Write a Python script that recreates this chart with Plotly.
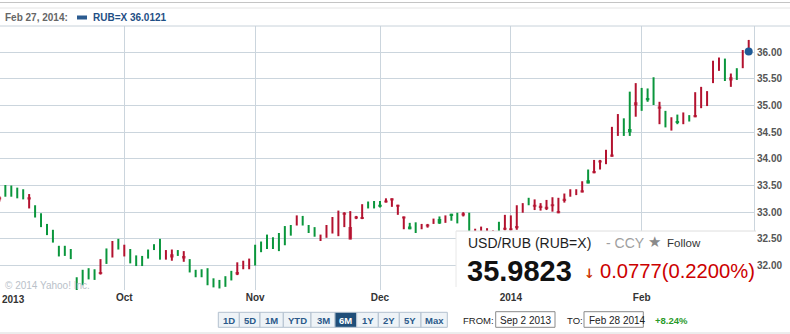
import numpy as np
import pandas as pd
import plotly.graph_objects as go

# ---------------- data ----------------
skip_days = ["2013-10-14", "2014-01-01"]
dates = [d.strftime("%Y-%m-%d") for d in pd.bdate_range("2013-09-02", "2014-02-27")
         if d.strftime("%Y-%m-%d") not in skip_days]

opens = [
    33.24, 33.40, 33.40, 33.36, 33.33, 33.24, 33.01, 32.85, 32.67, 32.55,
    32.27, 32.27, 32.21, 31.64, 31.77, 31.84, 31.83, 31.84, 32.17, 32.30,
    32.40, 32.28, 32.17, 32.09, 32.08, 32.21, 32.34, 32.30, 32.20, 32.15,
    32.23, 32.13, 32.00, 31.85, 31.85, 31.79, 31.67, 31.65, 31.70, 31.81,
    31.83, 32.01, 32.03, 32.19, 32.35, 32.44, 32.42, 32.44, 32.56, 32.66,
    32.85, 32.84, 32.68, 32.63, 32.52, 32.64, 32.75, 32.79, 32.95, 32.49,
    32.88, 32.87, 33.13, 33.14, 33.14, 33.18, 33.22, 33.10, 32.88, 32.73,
    32.71, 32.73, 32.73, 32.83, 32.87, 32.87, 32.97, 32.90, 32.94, 32.75,
    32.60, 32.62, 32.61, 32.58, 32.72, 32.67, 32.66, 32.70, 33.08, 33.20,
    33.10, 33.08, 33.06, 33.11, 32.98, 33.21, 33.36, 33.37, 33.37, 33.60,
    33.73, 33.93, 34.03, 34.04, 34.63, 34.60, 34.56, 35.00, 35.11, 35.14,
    35.27, 34.94, 34.75, 34.65, 34.71, 34.76, 34.76, 34.78, 35.15, 35.13,
    35.63, 35.78, 35.67, 35.47, 35.59, 35.87, 35.99,
]
highs = [
    33.30, 33.51, 33.50, 33.46, 33.43, 33.34, 33.13, 32.98, 32.78, 32.67,
    32.37, 32.37, 32.31, 31.78, 31.92, 31.95, 31.93, 32.12, 32.32, 32.46,
    32.50, 32.39, 32.31, 32.19, 32.18, 32.30, 32.40, 32.50, 32.29, 32.30,
    32.29, 32.27, 32.12, 31.92, 31.93, 31.95, 31.76, 31.73, 31.80, 31.90,
    32.06, 32.09, 32.13, 32.39, 32.45, 32.58, 32.53, 32.61, 32.74, 32.76,
    32.94, 32.93, 32.76, 32.72, 32.58, 32.76, 32.91, 33.03, 33.00, 33.02,
    32.93, 33.15, 33.20, 33.21, 33.21, 33.26, 33.26, 33.14, 32.92, 32.80,
    32.81, 32.78, 32.78, 32.88, 32.92, 32.94, 32.97, 32.99, 33.00, 32.99,
    32.69, 32.73, 32.70, 32.66, 32.82, 32.95, 32.94, 33.13, 33.17, 33.27,
    33.24, 33.17, 33.23, 33.28, 33.27, 33.35, 33.43, 33.43, 33.58, 33.80,
    33.98, 33.98, 34.17, 34.60, 34.84, 34.76, 35.26, 35.42, 35.33, 35.32,
    35.53, 35.07, 34.90, 34.78, 34.83, 34.87, 34.82, 35.25, 35.35, 35.27,
    35.84, 35.90, 35.88, 35.60, 35.70, 36.04, 36.23,
]
lows = [
    33.20, 33.29, 33.29, 33.26, 33.24, 33.07, 32.90, 32.72, 32.57, 32.43,
    32.17, 32.18, 32.12, 31.50, 31.63, 31.74, 31.73, 31.83, 32.03, 32.15,
    32.30, 32.17, 32.04, 31.99, 31.99, 32.13, 32.29, 32.11, 32.11, 32.09,
    32.18, 32.07, 31.87, 31.78, 31.78, 31.63, 31.59, 31.57, 31.60, 31.72,
    31.82, 31.93, 31.93, 32.00, 32.25, 32.31, 32.31, 32.27, 32.38, 32.56,
    32.75, 32.75, 32.61, 32.54, 32.46, 32.52, 32.60, 32.55, 32.72, 32.49,
    32.87, 32.87, 33.07, 33.07, 33.09, 33.18, 33.10, 32.95, 32.68, 32.68,
    32.61, 32.68, 32.71, 32.78, 32.78, 32.80, 32.84, 32.79, 32.92, 32.50,
    32.50, 32.52, 32.52, 32.50, 32.62, 32.66, 32.66, 32.67, 32.99, 33.13,
    33.04, 33.03, 33.04, 33.01, 32.98, 33.18, 33.29, 33.32, 33.37, 33.54,
    33.73, 33.80, 33.90, 34.04, 34.43, 34.43, 34.43, 34.79, 34.90, 35.07,
    35.01, 34.65, 34.59, 34.53, 34.65, 34.65, 34.70, 34.78, 34.95, 34.99,
    35.42, 35.65, 35.46, 35.35, 35.48, 35.70, 35.98,
]
closes = [
    33.28, 33.399, 33.399, 33.359, 33.329, 33.28, 33.009, 32.849, 32.669, 32.549,
    32.269, 32.269, 32.209, 31.639, 31.769, 31.839, 31.829, 31.88, 32.169, 32.301,
    32.399, 32.281, 32.169, 32.089, 32.079, 32.209, 32.339, 32.299, 32.201, 32.21,
    32.229, 32.18, 31.999, 31.849, 31.849, 31.789, 31.669, 31.649, 31.699, 31.809,
    31.88, 32.011, 32.031, 32.189, 32.349, 32.439, 32.419, 32.439, 32.559, 32.659,
    32.851, 32.839, 32.679, 32.629, 32.521, 32.641, 32.751, 32.791, 32.99, 32.72,
    32.92, 32.91, 33.129, 33.139, 33.10, 33.22, 33.26, 33.14, 32.92, 32.68,
    32.709, 32.731, 32.77, 32.831, 32.79, 32.871, 32.93, 32.899, 32.98, 32.749,
    32.601, 32.621, 32.611, 32.581, 32.719, 32.71, 32.70, 32.74, 33.081, 33.199,
    33.14, 33.12, 33.10, 33.15, 33.02, 33.25, 33.361, 33.371, 33.41, 33.54,
    33.77, 33.97, 34.031, 34.08, 34.631, 34.599, 34.50, 35.06, 35.109, 35.10,
    35.269, 34.98, 34.749, 34.651, 34.67, 34.761, 34.759, 34.82, 35.151, 35.131,
    35.631, 35.781, 35.669, 35.53, 35.589, 35.871, 36.0121,
]

month_names = {"10": "Oct", "11": "Nov", "12": "Dec", "01": "2014", "02": "Feb"}
y_ticks = [32.0, 32.5, 33.0, 33.5, 34.0, 34.5, 35.0, 35.5, 36.0]
range_buttons = ["1D", "5D", "1M", "YTD", "3M", "6M", "1Y", "2Y", "5Y", "Max"]
selected_button = "6M"
symbol = "RUB=X"
pair_title = "USD/RUB (RUB=X)"
last_price = "35.9823"
change_text = "0.0777(0.2200%)"
from_text = "Sep 2 2013"
to_text = "Feb 28 2014"
period_change = "+8.24%"

# ---------------- styling ----------------
RED = "#b3122f"
GREEN = "#0a963c"
RED_BODY = "#c9475e"
GREEN_BODY = "#17a04a"
GRID = "#cbd5dd"
FONT = "Liberation Sans"

W, H = 790, 334
ML, MR, MT, MB = 0, 36, 26, 44
PW = W - ML - MR
PH = H - MT - MB


def px(x):
    return (x - ML) / PW


def py(y):
    return (H - MB - y) / PH


o = np.array(opens)
h = np.array(highs)
l = np.array(lows)
c = np.array(closes)
mask = np.abs(c - o) >= 0.01
bx = [d for d, m in zip(dates, mask) if m]

# month tick positions (first trading day of each month after the first)
tick_dates, seen = [], set()
for d in dates:
    if d[:7] not in seen:
        seen.add(d[:7])
        tick_dates.append(d)
tick_dates = tick_dates[1:]
tick_text = [month_names[d[5:7]] for d in tick_dates]

fig = go.Figure()
fig.add_trace(go.Ohlc(
    x=dates, open=opens, high=highs, low=lows, close=closes,
    tickwidth=0,
    increasing=dict(line=dict(color=RED, width=2)),
    decreasing=dict(line=dict(color=GREEN, width=2)),
    hoverinfo="skip", showlegend=False,
))
fig.add_trace(go.Candlestick(
    x=bx, open=o[mask], close=c[mask],
    high=np.maximum(o, c)[mask], low=np.minimum(o, c)[mask],
    whiskerwidth=0,
    increasing=dict(line=dict(color=RED, width=0), fillcolor=RED_BODY),
    decreasing=dict(line=dict(color=GREEN, width=0), fillcolor=GREEN_BODY),
    hoverinfo="skip", showlegend=False,
))
fig.add_trace(go.Scatter(
    x=[dates[-1]], y=[closes[-1]], mode="markers",
    marker=dict(size=8, color="#1f5a96"), hoverinfo="skip", showlegend=False,
))

shapes = []
annotations = []


def line(x0, y0, x1, y1, color, width=1):
    shapes.append(dict(type="line", xref="paper", yref="paper",
                       x0=px(x0), x1=px(x1), y0=py(y0), y1=py(y1),
                       line=dict(color=color, width=width), layer="above"))


def rect(x0, y0, x1, y1, fill, lcolor=None, lw=0):
    shapes.append(dict(type="rect", xref="paper", yref="paper",
                       x0=px(x0), x1=px(x1), y0=py(y0), y1=py(y1),
                       fillcolor=fill, line=dict(color=lcolor or fill, width=lw),
                       layer="above"))


def text(x, y, s, size=10, color="#333", xanchor="left", family=FONT):
    annotations.append(dict(xref="paper", yref="paper", x=px(x), y=py(y),
                            text=s, showarrow=False, xanchor=xanchor, yanchor="middle",
                            font=dict(family=family, size=size, color=color)))


# header
line(0, 2.5, W, 2.5, "#c4c4c4")
line(0, 8, W, 8, "#e4e4e4")
line(0, 26, W, 26, "#c8d2da")
last_dt = pd.Timestamp(dates[-1])
text(3, 17.5, "<b>%s %d, %d:</b>" % (last_dt.strftime("%b"), last_dt.day, last_dt.year),
     size=10, color="#666")
rect(77, 15.5, 87, 19.5, "#2b5b90")
text(91, 17.5, "<b>%s %.4f</b>" % (symbol, closes[-1]), size=10, color="#1f4f85")

# copyright & first label
text(3, 285, "© 2014 Yahoo! Inc.", size=10, color="#b9c1c9")
text(0, 299, "<b>2013</b>", size=10, color="#333")

# quote box
rect(456, 231, 756, 291, "white")
line(456, 231, 756, 231, "#dedede")
line(456, 231, 456, 287, "#e8e8e8")
text(466, 243, pair_title, size=14, color="#1e1e1e")
text(604, 243, "- CCY", size=14, color="#a0a0a0")
text(654, 242, "★", size=15, color="#8a8a8a", xanchor="center", family="DejaVu Sans")
text(665, 243, "Follow", size=11.5, color="#333")
text(465, 271, "<b>%s</b>" % last_price, size=29, color="#111")
text(589, 273, "<b>↓</b>", size=13, color="#cc3300", xanchor="center", family="DejaVu Sans")
text(598, 271, change_text, size=20.2, color="#cc0000")

# range buttons
edges = [218.3, 239.3, 260, 283.3, 311, 335, 356.7, 378.3, 399.3, 421, 447.3]
for i, lab in enumerate(range_buttons):
    sel = lab == selected_button
    rect(edges[i], 312.3, edges[i + 1], 327.3, "#1f4e79" if sel else "#eef3f7", "#b3c1cf", 1)
    text((edges[i] + edges[i + 1]) / 2, 320, "<b>%s</b>" % lab, size=9.5,
         color="white" if sel else "#2b5a8a", xanchor="center")

text(461, 320.5, "FROM:", size=9.5, color="#222")
rect(495.7, 311.7, 555, 327.3, "white", "#8a8a8a", 1)
text(498, 320.5, from_text, size=10, color="#222")
text(565, 320.5, "TO:", size=9.5, color="#222")
rect(584, 311.7, 643.3, 327.3, "white", "#8a8a8a", 1)
text(586.5, 320.5, to_text, size=10, color="#222")
text(653, 320.5, "<b>%s</b>" % period_change, size=9.5, color="#2a9a2a")
line(0, 333, W, 333, "#dadada")

n = len(dates)
fig.update_layout(
    width=W, height=H,
    margin=dict(l=ML, r=MR, t=MT, b=MB, pad=0),
    paper_bgcolor="white", plot_bgcolor="white",
    showlegend=False, hovermode=False, boxgap=0.15,
    shapes=shapes, annotations=annotations,
    xaxis=dict(
        type="category", categoryorder="array", categoryarray=dates,
        range=[0.10, n - 0.11], rangeslider=dict(visible=False),
        tickvals=tick_dates, ticktext=tick_text, ticks="",
        showgrid=True, gridcolor=GRID, gridwidth=1, showline=False, zeroline=False,
        tickfont=dict(family=FONT, size=10, color="#333", weight="bold"),
    ),
    yaxis=dict(
        side="right", range=[31.541, 36.491],
        tickvals=y_ticks, ticktext=["%.2f" % v for v in y_ticks], ticks="",
        showgrid=True, gridcolor=GRID, gridwidth=1, zeroline=False,
        showline=True, linecolor=GRID, linewidth=1,
        tickfont=dict(family=FONT, size=10, color="#555", weight="bold"),
    ),
)

fig.write_html("out.html")
